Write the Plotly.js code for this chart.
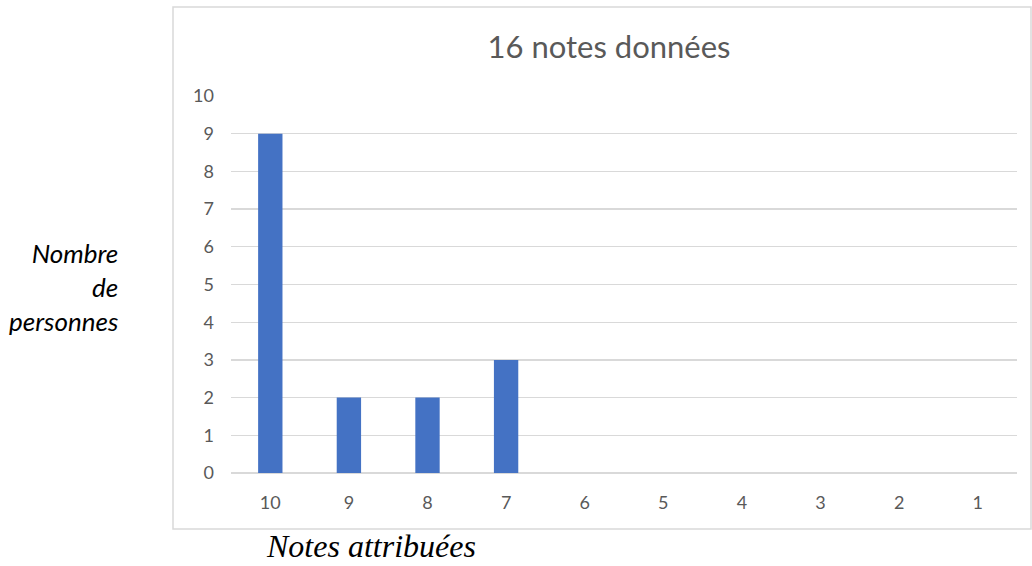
<!DOCTYPE html>
<html><head><meta charset="utf-8">
<script src="https://cdn.plot.ly/plotly-3.0.1.min.js"></script>
<style>html,body{margin:0;padding:0;background:#fff}#c{width:1032px;height:566px}</style>
</head><body><div id="c"></div>
<script>
const categories = ['10','9','8','7','6','5','4','3','2','1'];
const counts = [9, 2, 2, 3, 0, 0, 0, 0, 0, 0];
const yTicks = [0,1,2,3,4,5,6,7,8,9,10];
const chartTitle = '16 notes données';
const yLabel = 'Nombre<br>de<br>personnes';
const xLabel = 'Notes attribuées';

const sans = 'Lato, Open Sans, sans-serif';
const tickFont = {family: sans, size: 18, color: '#595959'};
Plotly.newPlot('c', [{
  type: 'bar', x: categories, y: counts,
  marker: {color: '#4472C4'}, hoverinfo: 'skip'
}], {
  width: 1032, height: 566,
  margin: {l: 231, r: 15, t: 96, b: 93},
  paper_bgcolor: '#fff', plot_bgcolor: '#fff',
  bargap: 0.69, showlegend: false,
  title: {text: chartTitle, x: 609/1032, xanchor: 'center', y: 1 - 47/566, yanchor: 'middle',
          font: {family: sans, size: 31, color: '#595959'}},
  xaxis: {type: 'category', tickfont: tickFont, showgrid: false, zeroline: false, showline: false,
          ticks: '', ticklabelstandoff: 17, fixedrange: true},
  yaxis: {range: [0, 10], tickvals: yTicks, tickfont: tickFont, showgrid: true, gridcolor: '#d9d9d9',
          gridwidth: 1.3, zeroline: true, zerolinecolor: '#d9d9d9', zerolinewidth: 1.3, showline: false,
          ticks: '', ticklabelstandoff: 16, fixedrange: true},
  shapes: [{type: 'rect', xref: 'paper', yref: 'paper',
            x0: (173-231)/786, x1: (1031-231)/786, y0: (473-529)/377, y1: (473-7)/377,
            line: {color: '#d9d9d9', width: 1.5}, fillcolor: 'rgba(0,0,0,0)', layer: 'below'}],
  annotations: [
    {text: yLabel, xref: 'paper', yref: 'paper', x: (120-231)/786, y: (473-287)/377,
     xanchor: 'right', yanchor: 'middle', align: 'right', showarrow: false,
     font: {family: sans, size: 26, color: '#000', style: 'italic'}},
    {text: xLabel, xref: 'paper', yref: 'paper', x: (371-231)/786, y: (473-546)/377,
     xanchor: 'center', yanchor: 'middle', showarrow: false,
     font: {family: 'Liberation Serif, Times New Roman, serif', size: 32, color: '#000', style: 'italic'}}
  ]
}, {staticPlot: true});
</script></body></html>
